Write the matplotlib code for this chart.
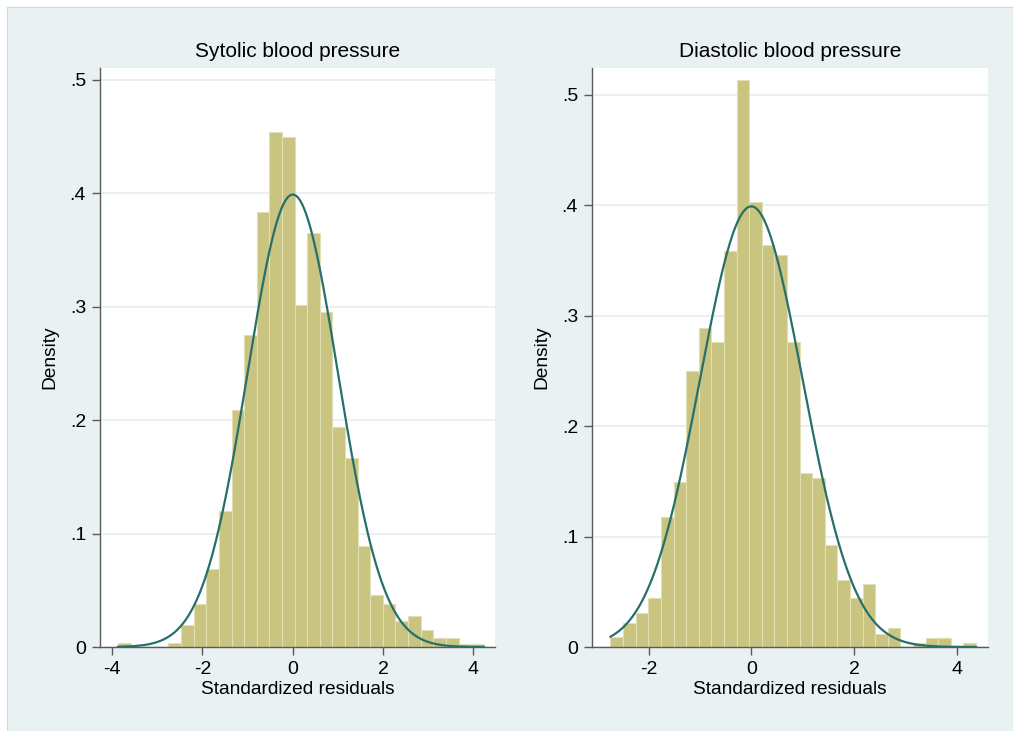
import matplotlib.pyplot as plt
import numpy as np
from matplotlib.patches import Rectangle

plt.rcParams['font.family'] = ['Liberation Sans', 'DejaVu Sans']

# systolic residuals histogram (density), 29 bins
sys_start = -3.87
sys_width = 0.2793
sys_dens = [0.0034, 0, 0, 0, 0.0034, 0.019, 0.038, 0.069, 0.120, 0.209,
            0.275, 0.384, 0.454, 0.450, 0.302, 0.365, 0.295, 0.194, 0.167, 0.089,
            0.046, 0.038, 0.023, 0.027, 0.015, 0.0076, 0.0076, 0.003, 0.003]

# diastolic residuals histogram (density), 29 bins
dia_start = -2.74
dia_width = 0.2453
dia_dens = [0.0095, 0.022, 0.031, 0.044, 0.118, 0.149, 0.250, 0.289, 0.276, 0.359,
            0.513, 0.403, 0.364, 0.355, 0.276, 0.158, 0.153, 0.092, 0.061, 0.044,
            0.057, 0.012, 0.017, 0, 0.0039, 0.0079, 0.0079, 0, 0.0039]

# fitted normal
mu = 0.0
sigma = 1.0

titles = ["Sytolic blood pressure", "Diastolic blood pressure"]
yticks = [0, 0.1, 0.2, 0.3, 0.4, 0.5]
ytick_labels = ["0", ".1", ".2", ".3", ".4", ".5"]
xticks = [[-4, -2, 0, 2, 4], [-2, 0, 2, 4]]

bg = '#EAF1F3'
bar_col = '#CAC481'
bar_edge = '#E3DFB4'
line_col = '#25706B'
axis_col = '#5A5A5A'

fig = plt.figure(figsize=(10.13, 7.31), dpi=100)
fig.patch.set_facecolor('white')
fig.patches.append(Rectangle((7 / 1013, 0), 1 - 7 / 1013, 1 - 7 / 731, transform=fig.transFigure,
                             facecolor=bg, edgecolor='#CFD6D8', linewidth=0.8, zorder=-10))

panels = [
    (fig.add_axes([0.0987, 0.1149, 0.390, 0.7917]), sys_start, sys_width, sys_dens, (-4.27, 4.48), (0, 0.5103)),
    (fig.add_axes([0.5844, 0.1149, 0.3906, 0.7917]), dia_start, dia_width, dia_dens, (-3.10, 4.60), (0, 0.524)),
]

for i, (ax, start, width, dens, xl, yl) in enumerate(panels):
    edges = start + width * np.arange(len(dens))
    ax.bar(edges, dens, width=width, align='edge', color=bar_col, edgecolor=bar_edge,
           linewidth=0.8, zorder=2)
    xs = np.linspace(start, start + width * len(dens), 400)
    ys = np.exp(-0.5 * ((xs - mu) / sigma) ** 2) / (sigma * np.sqrt(2 * np.pi))
    ax.plot(xs, ys, color=line_col, linewidth=1.6, zorder=3)

    ax.set_xlim(*xl)
    ax.set_ylim(*yl)
    ax.set_facecolor('white')
    ax.set_xticks(xticks[i])
    ax.set_xticklabels([str(t) for t in xticks[i]])
    ax.set_yticks(yticks)
    ax.set_yticklabels(ytick_labels)
    ax.grid(axis='y', color='#E6EEF0', linewidth=1.2, zorder=0)
    ax.set_axisbelow(True)
    for s in ['top', 'right']:
        ax.spines[s].set_visible(False)
    for s in ['left', 'bottom']:
        ax.spines[s].set_color(axis_col)
        ax.spines[s].set_linewidth(1.0)
    ax.tick_params(direction='out', length=6, width=1.0, color=axis_col,
                   labelsize=14, pad=4, labelcolor='black')
    ax.set_title(titles[i], fontsize=15, pad=8)
    ax.set_xlabel("Standardized residuals", fontsize=13.8, labelpad=2)
    ax.set_ylabel("Density", fontsize=13.8, labelpad=8)

fig.savefig('out.png', dpi=100, facecolor=fig.get_facecolor())
